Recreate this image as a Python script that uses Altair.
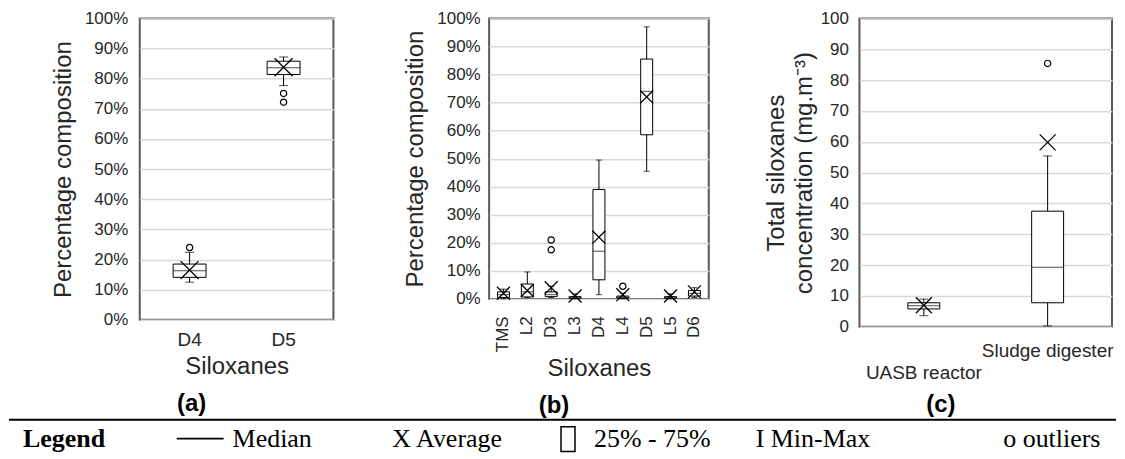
import altair as alt
import pandas as pd

# ---------------- Panel (a): percentage composition, D4 / D5 ----------------
a_cats = ["D4", "D5"]
a_min = [12.5, 77.7]
a_q1 = [14.1, 81.4]
a_med = [16.3, 83.6]
a_q3 = [18.5, 85.8]
a_max = [22.4, 87.2]
a_mean = [16.5, 83.8]
a_out_cat = ["D4", "D5", "D5"]
a_out_val = [24.0, 75.1, 72.2]

# ---------------- Panel (b): percentage composition, all siloxanes ----------------
b_cats = ["TMS", "L2", "D3", "L3", "D4", "L4", "D5", "L5", "D6"]
b_min = [0.0, 0.5, 0.5, 0.0, 1.5, 0.0, 45.5, 0.0, 0.5]
b_q1 = [0.5, 0.7, 0.8, 0.2, 6.8, 0.3, 58.5, 0.2, 1.0]
b_med = [1.5, 2.5, 1.5, 0.4, 17.0, 0.6, 74.0, 0.4, 2.0]
b_q3 = [2.5, 5.3, 2.5, 0.8, 39.0, 1.0, 85.5, 0.8, 3.0]
b_max = [3.5, 9.6, 4.5, 1.8, 49.5, 2.0, 97.0, 1.8, 4.0]
b_mean = [2.0, 3.0, 4.0, 1.0, 22.0, 1.5, 72.0, 1.0, 2.5]
b_out_cat = ["D3", "D3", "L4"]
b_out_val = [17.5, 21.0, 4.5]

# ---------------- Panel (c): total siloxanes concentration ----------------
c_cats = ["UASB reactor", "Sludge digester"]
c_min = [3.6, 0.3]
c_q1 = [5.8, 7.8]
c_med = [6.8, 19.3]
c_q3 = [7.8, 37.5]
c_max = [9.0, 55.4]
c_mean = [7.0, 59.8]
c_out_cat = ["Sludge digester"]
c_out_val = [85.4]

y_ticks = [0, 10, 20, 30, 40, 50, 60, 70, 80, 90, 100]
panel_titles = ["(a)", "(b)", "(c)"]
legend_texts = ["Legend", "Median", "X Average", "25% - 75%", "I Min-Max", "o outliers"]

SANS = "Liberation Sans"
SERIF = "Liberation Serif"
TXT = "#262626"
X_SHAPE = "M-1,-1L1,1M-1,1L1,-1"


def box_panel(cats, mn, q1, md, q3, mx, mean, oc, ov, *, width, height, pad_outer,
              box_w, cap_w, x_size, xaxis, xtitle, yaxis, ytitle, title):
    df = pd.DataFrame({"cat": cats, "min": mn, "q1": q1, "med": md,
                       "q3": q3, "max": mx, "mean": mean})
    dfo = pd.DataFrame({"cat": oc, "val": ov})
    yscale = alt.Scale(domain=[0, 100], nice=False)

    def X():
        return alt.X("cat:N", sort=cats, title=xtitle, axis=xaxis,
                     scale=alt.Scale(paddingInner=0, paddingOuter=pad_outer))

    def Y(f):
        return alt.Y(f, scale=yscale, title=ytitle, axis=yaxis)

    base = alt.Chart(df)
    whisk = base.mark_rule(color="black", strokeWidth=1).encode(x=X(), y=Y("min:Q"), y2="max:Q")
    box = base.mark_bar(size=box_w, fill="white", stroke="black", strokeWidth=1).encode(
        x=X(), y=Y("q1:Q"), y2="q3:Q")
    med = base.mark_tick(size=box_w, thickness=1, color="black").encode(x=X(), y=Y("med:Q"))
    cap_lo = base.mark_tick(size=cap_w, thickness=1, color="black").encode(x=X(), y=Y("min:Q"))
    cap_hi = base.mark_tick(size=cap_w, thickness=1, color="black").encode(x=X(), y=Y("max:Q"))
    avg = base.mark_point(shape=X_SHAPE, size=x_size * x_size, stroke="black",
                          strokeWidth=1.3, filled=False, opacity=1).encode(x=X(), y=Y("mean:Q"))
    outl = alt.Chart(dfo).mark_point(shape="circle", size=40, stroke="black", strokeWidth=1.2,
                                     filled=False, opacity=1).encode(x=X(), y=Y("val:Q"))
    return alt.layer(whisk, box, med, cap_lo, cap_hi, avg, outl).properties(
        width=width, height=height, title=title)


def ptitle(t, offset):
    return alt.TitleParams(text=t, orient="bottom", anchor="middle", dx=-45,
                           fontSize=24, fontWeight="bold", font=SANS, color="black",
                           offset=offset)


pct_axis = dict(values=y_ticks, labelExpr="datum.value + '%'", grid=True,
                labelFontSize=17, titleFontSize=24, titlePadding=9)

pa = box_panel(a_cats, a_min, a_q1, a_med, a_q3, a_max, a_mean, a_out_cat, a_out_val,
               width=194, height=302, pad_outer=0.03, box_w=33, cap_w=9, x_size=18,
               xaxis=alt.Axis(labelAngle=0, labelFontSize=19, labelPadding=11,
                              titleFontSize=24, titlePadding=5),
               xtitle="Siloxanes",
               yaxis=alt.Axis(labelPadding=12, **pct_axis),
               ytitle="Percentage composition",
               title=ptitle(panel_titles[0], 13))

pb = box_panel(b_cats, b_min, b_q1, b_med, b_q3, b_max, b_mean, b_out_cat, b_out_val,
               width=220, height=281, pad_outer=0.1, box_w=12, cap_w=6, x_size=13,
               xaxis=alt.Axis(labelAngle=-90, labelAlign="right", labelBaseline="middle",
                              labelFontSize=17, labelPadding=17,
                              titleFontSize=24, titlePadding=5),
               xtitle="Siloxanes",
               yaxis=alt.Axis(labelPadding=9, **pct_axis),
               ytitle="Percentage composition",
               title=ptitle(panel_titles[1], 13))

pc = box_panel(c_cats, c_min, c_q1, c_med, c_q3, c_max, c_mean, c_out_cat, c_out_val,
               width=253, height=309, pad_outer=0.02, box_w=32, cap_w=9, x_size=16,
               xaxis=alt.Axis(labelAngle=0, labelFontSize=19, labelPadding=15,
                              labelLineHeight=22,
                              labelExpr="datum.value == 'UASB reactor' ? ['', datum.value] : datum.value"),
               xtitle=None,
               yaxis=alt.Axis(values=y_ticks, grid=True, labelFontSize=17, labelPadding=11,
                              titleFontSize=24, titlePadding=4, titleLineHeight=28),
               ytitle=["Total siloxanes", "concentration (mg.m\u207b\u00b3)"],
               title=ptitle(panel_titles[2], 10))

# ---------------- Legend row (positions relative to the left edge of panel (a)) ----------------
dummy = pd.DataFrame({"k": [0]})
lb = alt.Chart(dummy)
LY = 20
FS = 26


def ltext(t, x, bold=False):
    return lb.mark_text(text=t, align="left", baseline="middle", font=SERIF, fontSize=FS,
                        fontWeight="bold" if bold else "normal", color="black").encode(
        x=alt.value(x), y=alt.value(LY))


legend_layers = [
    lb.mark_rule(color="black", strokeWidth=2).encode(x=alt.value(-131), x2=alt.value(978), y=alt.value(1)),
    ltext(legend_texts[0], -117, bold=True),
    lb.mark_rule(color="black", strokeWidth=2).encode(x=alt.value(37), x2=alt.value(84), y=alt.value(LY)),
    ltext(legend_texts[1], 93),
    ltext(legend_texts[2], 253),
    lb.mark_rect(fill="white", stroke="black", strokeWidth=1.5).encode(
        x=alt.value(422), x2=alt.value(436), y=alt.value(LY - 12), y2=alt.value(LY + 13)),
    ltext(legend_texts[3], 455),
    ltext(legend_texts[4], 617),
    ltext(legend_texts[5], 865),
]
legend = alt.layer(*legend_layers).properties(
    width=970, height=34, view=alt.ViewBackground(strokeWidth=0, stroke="transparent"))

row = alt.hconcat(alt.hconcat(pa, pb, spacing=68), pc, spacing=53)

chart = alt.vconcat(row, legend, spacing=0).properties(
    padding={"left": 0, "top": 0, "right": 0, "bottom": 0}
).configure_view(
    stroke="#595959", strokeWidth=2
).configure_axis(
    domain=False, ticks=False, labelFont=SANS, titleFont=SANS, labelColor=TXT, titleColor=TXT,
    titleFontWeight="normal", gridColor="#d9d9d9", gridWidth=1.5
).configure_axisX(grid=False)

chart.save("out.html", embed_options={"renderer": "svg", "actions": False})
